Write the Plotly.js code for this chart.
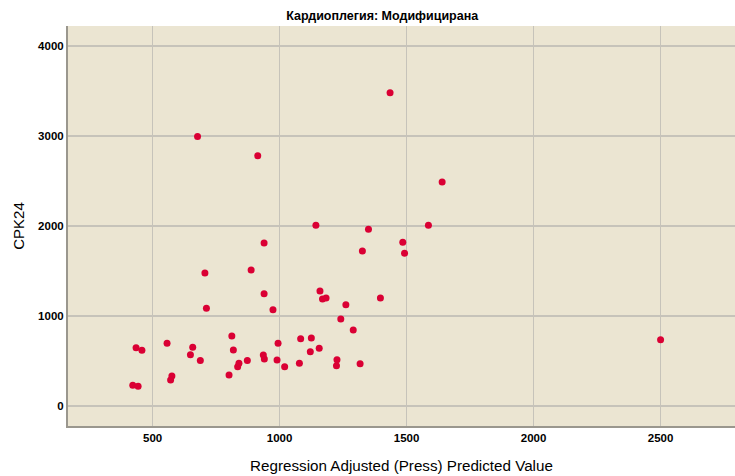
<!DOCTYPE html>
<html>
<head>
<meta charset="utf-8">
<script src="https://cdn.plot.ly/plotly-3.0.1.min.js"></script>
<style>html,body{margin:0;padding:0;background:#fff;}#chart{width:735px;height:476px;}</style>
</head>
<body>
<div id="chart"></div>
<script>
const predicted = [422, 443, 435, 458, 557, 571, 576, 649, 658, 677, 688, 706, 712, 801, 812, 818, 835, 840, 873, 888,
  914, 936, 939, 939, 940, 974, 990, 994, 1020, 1078, 1083, 1121, 1125, 1143, 1156, 1159, 1169, 1183, 1224, 1226,
  1241, 1261, 1290, 1317, 1326, 1350, 1397, 1435, 1485, 1492, 1586, 1640, 2500];
const cpk24 = [230, 219, 648, 619, 696, 289, 333, 570, 652, 2993, 507, 1478, 1085, 344, 778, 622, 437, 474, 507, 1511,
  2781, 567, 1248, 1811, 522, 1070, 511, 696, 437, 474, 748, 604, 756, 2007, 641, 1278, 1189, 1200, 448, 515,
  967, 1126, 844, 470, 1722, 1963, 1200, 3481, 1819, 1697, 2007, 2489, 737];
const xTicks = [500, 1000, 1500, 2000, 2500];
const yTicks = [0, 1000, 2000, 3000, 4000];
const chartTitle = 'Кардиоплегия: Модифицирана';
const xTitle = 'Regression Adjusted (Press) Predicted Value';
const yTitle = 'CPK24';

const narrow = '"Liberation Sans Narrow", "Arial Narrow", "Liberation Sans", Arial, sans-serif';
const trace = {
  x: predicted, y: cpk24, type: 'scatter', mode: 'markers',
  marker: {color: '#DA0034', size: 7, line: {width: 0}},
  hoverinfo: 'x+y'
};
const layout = {
  width: 735, height: 476,
  margin: {l: 68, r: 0, t: 26, b: 50, pad: 0},
  paper_bgcolor: '#ffffff',
  plot_bgcolor: '#EBE5D2',
  showlegend: false,
  title: {text: chartTitle, x: 0.52, xanchor: 'center', y: 0.968, yanchor: 'middle',
    font: {family: narrow, size: 12.5, color: '#000', weight: 'bold'}},
  xaxis: {
    range: [167, 2793], tickvals: xTicks, ticktext: xTicks.map(String),
    showgrid: true, gridcolor: '#C6C3BA', gridwidth: 1.5, zeroline: false,
    showline: true, linecolor: '#9A978E', linewidth: 2, mirror: false, ticks: '',
    tickfont: {family: narrow, size: 11.5, color: '#000', weight: 'bold'},
    title: {text: xTitle, standoff: 18, font: {family: narrow, size: 15.2, color: '#000'}},
    automargin: false
  },
  yaxis: {
    range: [-222, 4222], tickvals: yTicks, ticktext: yTicks.map(String),
    showgrid: true, gridcolor: '#C6C3BA', gridwidth: 1.5, zeroline: false,
    showline: true, linecolor: '#9A978E', linewidth: 2, ticks: '',
    tickfont: {family: narrow, size: 11.5, color: '#000', weight: 'bold'},
    title: {text: yTitle, standoff: 10, font: {family: '"Liberation Sans", Arial, sans-serif', size: 15, color: '#000'}},
    automargin: false
  }
};
Plotly.newPlot('chart', [trace], layout, {staticPlot: true, displayModeBar: false});
</script>
</body>
</html>
